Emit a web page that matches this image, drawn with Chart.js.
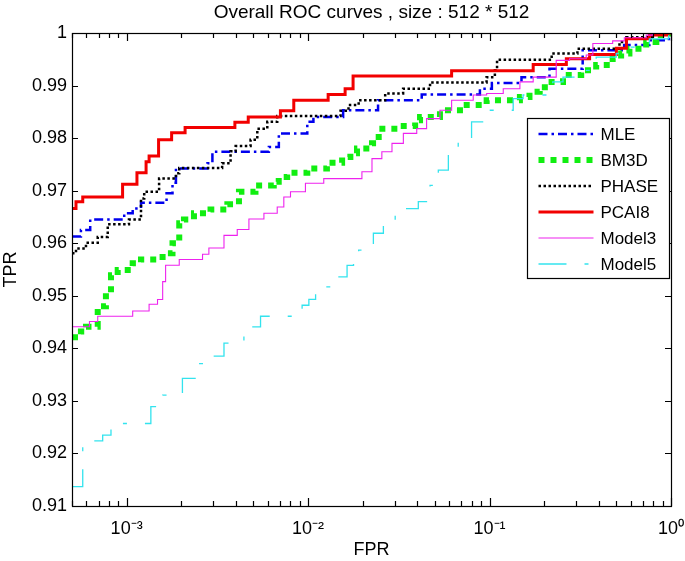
<!DOCTYPE html>
<html><head><meta charset="utf-8">
<script src="https://cdn.jsdelivr.net/npm/chart.js@4/dist/chart.umd.min.js"></script>
<style>html,body{margin:0;padding:0;background:#fff}</style>
</head><body>
<canvas id="c" width="685" height="561"></canvas>
<script>
const FONT = '"Liberation Sans", Arial, Helvetica, sans-serif';

const chartTitle = 'Overall ROC curves , size : 512 * 512';
const xTitle = 'FPR';
const yTitle = 'TPR';
const seriesNames = ['MLE', 'BM3D', 'PHASE', 'PCAI8', 'Model3', 'Model5'];

const xTickValues = [1e-3, 1e-2, 1e-1, 1];
const xTickLabels = ['10⁻³', '10⁻²', '10⁻¹', '10⁰'];
const yTickValues = [0.91, 0.92, 0.93, 0.94, 0.95, 0.96, 0.97, 0.98, 0.99, 1];
const yTickLabels = ['0.91', '0.92', '0.93', '0.94', '0.95', '0.96', '0.97', '0.98', '0.99', '1'];

const mleFpr = [5e-4, 5.6e-4, 6.3e-4, 9.7e-4, 1.08e-3, 1.2e-3, 1.66e-3, 1.79e-3, 1.87e-3, 2.79e-3, 2.97e-3, 6.08e-3, 6.9e-3, 9.9e-3, 1.07e-2, 1.56e-2, 2.43e-2, 4.23e-2, 8.85e-2, 0.103, 0.15, 0.214, 0.326, 0.552, 0.76, 0.974, 1];
const mleTpr = [0.9613, 0.9625, 0.9645, 0.9657, 0.9666, 0.9677, 0.9695, 0.9715, 0.9742, 0.9752, 0.9774, 0.9783, 0.9809, 0.9831, 0.9840, 0.9853, 0.9872, 0.9883, 0.9894, 0.9905, 0.9916, 0.9932, 0.9967, 0.9977, 0.9986, 1, 1];

const bm3dFpr = [5e-4, 5.6e-4, 5.97e-4, 6.93e-4, 7.69e-4, 8.2e-4, 8.93e-4, 1.08e-3, 1.2e-3, 1.51e-3, 1.68e-3, 1.79e-3, 1.95e-3, 2.07e-3, 2.35e-3, 2.9e-3, 3.59e-3, 4.16e-3, 5.13e-3, 6.47e-3, 6.89e-3, 7.67e-3, 9.9e-3, 1.27e-2, 1.54e-2, 1.71e-2, 1.86e-2, 2.25e-2, 2.45e-2, 3.21e-2, 3.89e-2, 4.14e-2, 5.33e-2, 7.16e-2, 9.64e-2, 0.147, 0.166, 0.189, 0.21, 0.254, 0.32, 0.387, 0.477, 0.531, 0.59, 0.73, 0.83, 0.94, 1];
const bm3dTpr = [0.9421, 0.9432, 0.9441, 0.9480, 0.9506, 0.9539, 0.9549, 0.9562, 0.9569, 0.9574, 0.9581, 0.9600, 0.9638, 0.9645, 0.9657, 0.9664, 0.9674, 0.9698, 0.9710, 0.9717, 0.9726, 0.9734, 0.9742, 0.9753, 0.9764, 0.9771, 0.9780, 0.9790, 0.9818, 0.9823, 0.9834, 0.9840, 0.9853, 0.9863, 0.9872, 0.9878, 0.9888, 0.9897, 0.9907, 0.9920, 0.9929, 0.9939, 0.9951, 0.9961, 0.9970, 0.9983, 0.9996, 0.9999, 1];

const phaseFpr = [5e-4, 5.26e-4, 5.97e-4, 6.93e-4, 7.87e-4, 1.03e-3, 1.2e-3, 1.25e-3, 1.51e-3, 1.87e-3, 1.95e-3, 3.36e-3, 3.74e-3, 3.99e-3, 4.82e-3, 5.25e-3, 5.96e-3, 6.76e-3, 1.51e-2, 1.67e-2, 1.9e-2, 2.66e-2, 3.34e-2, 4.7e-2, 9.63e-2, 0.107, 0.11, 0.22, 0.305, 0.52, 0.568, 0.789, 1];
const phaseTpr = [0.9581, 0.9590, 0.9601, 0.9612, 0.9636, 0.9645, 0.9685, 0.9698, 0.9723, 0.9733, 0.9743, 0.9752, 0.9775, 0.9785, 0.9797, 0.9818, 0.9831, 0.9842, 0.9852, 0.9863, 0.9872, 0.9885, 0.9894, 0.9906, 0.9916, 0.9929, 0.9949, 0.9961, 0.9970, 0.9983, 0.9992, 1, 1];

const pcai8Fpr = [5e-4, 5.26e-4, 5.73e-4, 9.5e-4, 1.14e-3, 1.28e-3, 1.33e-3, 1.5e-3, 1.77e-3, 2.1e-3, 3.95e-3, 4.68e-3, 7.04e-3, 8.34e-3, 1.29e-2, 1.6e-2, 1.77e-2, 6.18e-2, 0.174, 0.265, 0.356, 0.5, 0.568, 0.76, 0.95, 1];
const pcai8Tpr = [0.9666, 0.9679, 0.9688, 0.9712, 0.9734, 0.9755, 0.9766, 0.9797, 0.9810, 0.9820, 0.9830, 0.9840, 0.9852, 0.9872, 0.9883, 0.9894, 0.9918, 0.9928, 0.9940, 0.9951, 0.9959, 0.9971, 0.9989, 0.9996, 1, 1];

const model3Fpr = [5e-4, 6.24e-4, 6.93e-4, 1.08e-3, 1.33e-3, 1.48e-3, 1.58e-3, 1.64e-3, 1.95e-3, 2.62e-3, 2.84e-3, 3.44e-3, 4.07e-3, 4.72e-3, 5.71e-3, 6.76e-3, 7.35e-3, 8e-3, 9.67e-3, 1.22e-2, 1.98e-2, 2.25e-2, 2.55e-2, 2.9e-2, 3.35e-2, 3.97e-2, 4.5e-2, 5.33e-2, 6.18e-2, 8.13e-2, 9.64e-2, 0.119, 0.147, 0.174, 0.233, 0.276, 0.341, 0.371, 0.477, 0.553, 0.73, 0.79, 1];
const model3Tpr = [0.9441, 0.9451, 0.9461, 0.9471, 0.9484, 0.9493, 0.9527, 0.9558, 0.9569, 0.9579, 0.9591, 0.9615, 0.9626, 0.9646, 0.9657, 0.9669, 0.9688, 0.9698, 0.9714, 0.9723, 0.9736, 0.9761, 0.9774, 0.9790, 0.9809, 0.9818, 0.9837, 0.9853, 0.9872, 0.9882, 0.9885, 0.9894, 0.9907, 0.9916, 0.9948, 0.9951, 0.9958, 0.9980, 0.9985, 0.9991, 0.9996, 1, 1];

const model5Fpr = [5e-4, 5.73e-4, 7.38e-4, 8.2e-4, 1.36e-3, 1.58e-3, 2.03e-3, 2.46e-3, 2.79e-3, 3.44e-3, 4.43e-3, 5.47e-3, 9.27e-3, 1.01e-2, 1.1e-2, 1.35e-2, 1.64e-2, 1.78e-2, 1.9e-2, 2.29e-2, 2.6e-2, 3.02e-2, 4.05e-2, 4.7e-2, 5.22e-2, 5.93e-2, 6.72e-2, 7.96e-2, 9.42e-2, 0.135, 0.153, 0.223, 0.254, 0.327, 0.387, 0.499, 0.59, 0.76, 0.97, 1];
const model5Tpr = [0.9137, 0.9224, 0.9235, 0.9257, 0.9289, 0.9311, 0.9343, 0.9371, 0.9385, 0.9410, 0.9441, 0.9461, 0.9482, 0.9493, 0.9517, 0.9536, 0.9558, 0.9574, 0.9587, 0.9619, 0.9644, 0.9666, 0.9679, 0.9710, 0.9739, 0.9777, 0.9799, 0.9831, 0.9853, 0.9875, 0.9882, 0.9907, 0.9916, 0.9929, 0.9954, 0.9961, 0.9973, 0.9989, 1, 1];

const seriesFpr = [mleFpr, bm3dFpr, phaseFpr, pcai8Fpr, model3Fpr, model5Fpr];
const seriesTpr = [mleTpr, bm3dTpr, phaseTpr, pcai8Tpr, model3Tpr, model5Tpr];

const lineStyles = [
  { color: '#0000ee', width: 2.5, dash: [9, 4, 2.5, 4] },
  { color: '#11ee11', width: 6, dash: [6, 6] },
  { color: '#000000', width: 2.5, dash: [2.5, 2.5] },
  { color: '#f20000', width: 3, dash: [] },
  { color: '#ee22ee', width: 1.1, dash: [] },
  { color: '#33e3ee', width: 1.3, dash: [28, 18, 4, 18] }
];

const datasets = seriesNames.map((name, i) => ({
  label: name,
  data: seriesFpr[i].map((f, j) => ({ x: f, y: seriesTpr[i][j] })),
  borderColor: lineStyles[i].color,
  backgroundColor: lineStyles[i].color,
  borderWidth: lineStyles[i].width,
  borderDash: lineStyles[i].dash,
  borderCapStyle: 'butt',
  borderJoinStyle: 'miter',
  stepped: 'before',
  pointRadius: 0,
  fill: false,
  order: seriesNames.length - i
}));

const framePlugin = {
  id: 'matlabFrame',
  afterDatasetsDraw(chart) {
    const { ctx, chartArea: a, scales: { x, y } } = chart;
    ctx.save();
    ctx.strokeStyle = '#000';
    ctx.lineWidth = 1.2;
    ctx.setLineDash([]);
    ctx.beginPath();
    for (let k = -4; k <= 0; k++) {
      for (let m = 1; m <= 9; m++) {
        const v = m * Math.pow(10, k);
        if (v < x.min * 0.9999 || v > x.max * 1.0001) continue;
        const px = Math.round(x.getPixelForValue(v)) + 0.5;
        const len = m === 1 ? 8 : 5;
        ctx.moveTo(px, a.bottom); ctx.lineTo(px, a.bottom - len);
        ctx.moveTo(px, a.top); ctx.lineTo(px, a.top + len);
      }
    }
    yTickValues.forEach(v => {
      const py = Math.round(y.getPixelForValue(v)) + 0.5;
      ctx.moveTo(a.left, py); ctx.lineTo(a.left + 6, py);
      ctx.moveTo(a.right, py); ctx.lineTo(a.right - 6, py);
    });
    ctx.stroke();
    ctx.strokeRect(Math.round(a.left) + 0.5, Math.round(a.top) + 0.5,
      Math.round(a.right - a.left), Math.round(a.bottom - a.top));

    // legend box
    const lw = 142, lh = 160;
    const lx = Math.round(a.right) - lw - 2 + 0.5, ly = Math.round(a.top) + 85 + 0.5;
    ctx.fillStyle = '#fff';
    ctx.fillRect(lx, ly, lw, lh);
    ctx.lineWidth = 1.2;
    ctx.strokeRect(lx, ly, lw, lh);
    ctx.font = '17px ' + FONT;
    ctx.textBaseline = 'middle';
    ctx.textAlign = 'left';
    chart.data.datasets.forEach((ds, i) => {
      const cy = ly + 15.5 + i * 26;
      ctx.beginPath();
      ctx.strokeStyle = ds.borderColor;
      ctx.lineWidth = ds.borderWidth;
      ctx.lineCap = 'butt';
      ctx.setLineDash(ds.borderDash || []);
      ctx.moveTo(lx + 11, cy); ctx.lineTo(lx + 66, cy);
      ctx.stroke();
      ctx.setLineDash([]);
      ctx.fillStyle = '#000';
      ctx.fillText(ds.label, lx + 73, cy + 1);
    });
    ctx.restore();
  }
};

new Chart(document.getElementById('c'), {
  type: 'line',
  data: { datasets },
  plugins: [framePlugin],
  options: {
    responsive: false,
    animation: false,
    devicePixelRatio: 1,
    layout: { padding: { left: 0, right: 14, top: 0, bottom: 0 } },
    plugins: {
      legend: { display: false },
      tooltip: { enabled: false },
      title: {
        display: true, text: chartTitle, color: '#000', fullSize: false,
        font: { family: FONT, size: 19, weight: 'normal', lineHeight: 1.2 },
        padding: { top: 1, bottom: 9.2 }
      }
    },
    scales: {
      x: {
        type: 'logarithmic', min: 5e-4, max: 1,
        afterBuildTicks: s => { s.ticks = xTickValues.map(v => ({ value: v, major: true })); },
        ticks: {
          autoSkip: false, maxRotation: 0, minRotation: 0, color: '#000', padding: 12,
          font: { family: FONT, size: 18 },
          callback: (v) => {
            const i = xTickValues.findIndex(t => Math.abs(Math.log10(t) - Math.log10(v)) < 1e-6);
            return i >= 0 ? xTickLabels[i] : '';
          }
        },
        grid: { display: false, drawTicks: false },
        border: { display: false },
        title: { display: true, text: xTitle, color: '#000', font: { family: FONT, size: 18 }, padding: { top: 0, bottom: 0 } },
        afterFit: s => { s.height = 55; s.paddingLeft = 0; s.paddingRight = 0; }
      },
      y: {
        type: 'linear', min: 0.91, max: 1,
        afterBuildTicks: s => { s.ticks = yTickValues.map(v => ({ value: v })); },
        ticks: {
          color: '#000', padding: 5, font: { family: FONT, size: 18 },
          callback: (v, i) => yTickLabels[i]
        },
        grid: { display: false, drawTicks: false },
        border: { display: false },
        title: { display: true, text: yTitle, color: '#000', font: { family: FONT, size: 18 }, padding: { top: 0, bottom: 0 } },
        afterFit: s => { s.width = 72; }
      }
    }
  }
});
</script>
</body></html>
